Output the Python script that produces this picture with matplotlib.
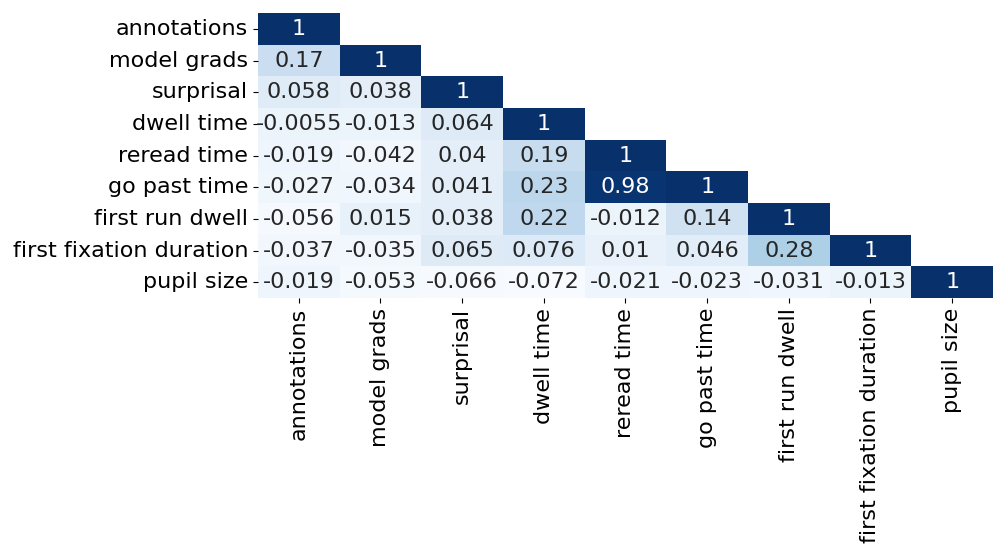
import matplotlib
matplotlib.use("Agg")
import matplotlib.pyplot as plt
import numpy as np
import pandas as pd
import seaborn as sns

labels = ["annotations", "model grads", "surprisal", "dwell time", "reread time",
          "go past time", "first run dwell", "first fixation duration", "pupil size"]

# lower triangle rows (excluding diagonal)
lower_rows = [
    [],
    [0.17],
    [0.058, 0.038],
    [-0.0055, -0.013, 0.064],
    [-0.019, -0.042, 0.04, 0.19],
    [-0.027, -0.034, 0.041, 0.23, 0.98],
    [-0.056, 0.015, 0.038, 0.22, -0.012, 0.14],
    [-0.037, -0.035, 0.065, 0.076, 0.01, 0.046, 0.28],
    [-0.019, -0.053, -0.066, -0.072, -0.021, -0.023, -0.031, -0.013],
]

n = len(labels)
corr = np.eye(n)
for i, row in enumerate(lower_rows):
    for j, v in enumerate(row):
        corr[i, j] = v
        corr[j, i] = v
corr = pd.DataFrame(corr, index=labels, columns=labels)

# hide strictly upper triangle
mask = np.triu(np.ones((n, n), dtype=bool), k=1)

fig = plt.figure(figsize=(9.93, 5.45), dpi=100)
ax = fig.add_axes([0.2598, 0.453, 0.7402, 0.523])
sns.heatmap(corr, mask=mask, cmap="Blues", annot=True, cbar=False,
            annot_kws={"fontsize": 16}, ax=ax)
ax.tick_params(labelsize=16)
plt.setp(ax.get_xticklabels(), rotation=90)
plt.setp(ax.get_yticklabels(), rotation=0)

fig.savefig("out.png", dpi=100)
